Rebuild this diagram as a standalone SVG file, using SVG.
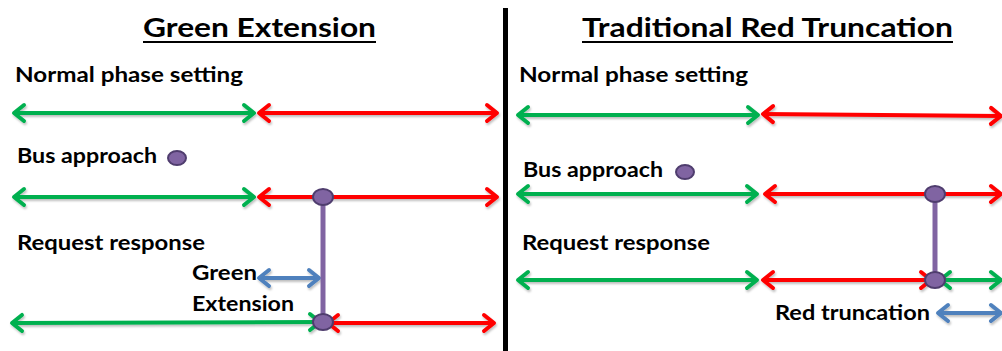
<svg xmlns="http://www.w3.org/2000/svg" width="1002" height="351" viewBox="0 0 1002 351">
  <defs>
    <style>
      .title { font-family: Lato, "Liberation Sans", sans-serif; font-weight: bold; font-size: 27px; fill: #000; }
      .label { font-family: Lato, "Liberation Sans", sans-serif; font-weight: bold; font-size: 20px; fill: #000; }
      .uline { stroke: #000; stroke-width: 2; }
      .arr { fill: none; stroke-width: 4; filter: url(#shadow); }
      .g { stroke: #00B050; marker-start: url(#hg); marker-end: url(#hg); }
      .r { stroke: #FF0000; marker-start: url(#hr); marker-end: url(#hr); }
      .b { stroke: #4F81BD; marker-start: url(#hb); marker-end: url(#hb); }
      .link { stroke: #8064A2; stroke-width: 5; }
      .dot { fill: #8064A2; stroke: #4F3D6E; stroke-width: 2; }
    </style>
    <filter id="shadow" filterUnits="userSpaceOnUse" x="0" y="0" width="1002" height="351">
      <feDropShadow dx="1" dy="2" stdDeviation="1.2" flood-color="#000" flood-opacity="0.25"/>
    </filter>
    <marker id="hg" markerUnits="userSpaceOnUse" markerWidth="20" markerHeight="20" viewBox="-14 -10 18 20" refX="0" refY="0" orient="auto-start-reverse" overflow="visible">
      <path d="M -10 -8 L 0 0 L -10 8" fill="none" stroke="#00B050" stroke-width="4" stroke-linecap="round" stroke-linejoin="round"/>
    </marker>
    <marker id="hr" markerUnits="userSpaceOnUse" markerWidth="20" markerHeight="20" viewBox="-14 -10 18 20" refX="0" refY="0" orient="auto-start-reverse" overflow="visible">
      <path d="M -10 -8 L 0 0 L -10 8" fill="none" stroke="#FF0000" stroke-width="4" stroke-linecap="round" stroke-linejoin="round"/>
    </marker>
    <marker id="hb" markerUnits="userSpaceOnUse" markerWidth="20" markerHeight="20" viewBox="-14 -10 18 20" refX="0" refY="0" orient="auto-start-reverse" overflow="visible">
      <path d="M -10 -8 L 0 0 L -10 8" fill="none" stroke="#4F81BD" stroke-width="4" stroke-linecap="round" stroke-linejoin="round"/>
    </marker>
  </defs>

  <rect width="1002" height="351" fill="#fff"/>

  <!-- panel divider -->
  <rect id="divider" x="503" y="8" width="5" height="343" fill="#000"/>

  <!-- left panel: green extension -->
  <g id="title-left">
    <text class="title" x="143" y="37" textLength="233" lengthAdjust="spacingAndGlyphs">Green Extension</text>
    <line class="uline" x1="143" y1="42" x2="376" y2="42"/>
  </g>
  <g id="labels-left">
    <text class="label" x="15" y="82" textLength="228" lengthAdjust="spacingAndGlyphs">Normal phase setting</text>
    <text class="label" x="17" y="163" textLength="140" lengthAdjust="spacingAndGlyphs">Bus approach</text>
    <text class="label" x="17" y="250" textLength="188" lengthAdjust="spacingAndGlyphs">Request response</text>
    <text class="label" x="192" y="280" textLength="65" lengthAdjust="spacingAndGlyphs">Green</text>
    <text class="label" x="192" y="311" textLength="102" lengthAdjust="spacingAndGlyphs">Extension</text>
  </g>

  <!-- right panel: traditional red truncation -->
  <g id="title-right">
    <text class="title" x="582" y="37" textLength="371" lengthAdjust="spacingAndGlyphs">Traditional  Red Truncation</text>
    <line class="uline" x1="582" y1="42" x2="953" y2="42"/>
  </g>
  <g id="labels-right">
    <text class="label" x="519" y="82" textLength="229" lengthAdjust="spacingAndGlyphs">Normal phase setting</text>
    <text class="label" x="523" y="177" textLength="140" lengthAdjust="spacingAndGlyphs">Bus approach</text>
    <text class="label" x="522" y="250" textLength="188" lengthAdjust="spacingAndGlyphs">Request response</text>
    <text class="label" x="775" y="320" textLength="155" lengthAdjust="spacingAndGlyphs">Red truncation</text>
  </g>

  <!-- phase timelines and interval arrows -->
  <g id="connectors">
    <!-- left: normal -->
    <line class="arr g" x1="14" y1="113" x2="254" y2="113"/>
    <line class="arr r" x1="259" y1="113" x2="497" y2="113"/>
    <!-- left: bus approach -->
    <line class="arr g" x1="14" y1="197" x2="254" y2="197"/>
    <line class="arr r" x1="259" y1="197" x2="497" y2="197"/>
    <!-- left: request response -->
    <line class="arr g" x1="12" y1="323" x2="320" y2="322"/>
    <line class="arr r" x1="328" y1="323" x2="494" y2="323"/>
    <!-- left: extension span -->
    <line class="arr b" x1="259" y1="278" x2="319" y2="278"/>

    <!-- right: normal -->
    <line class="arr g" x1="518" y1="115" x2="758" y2="115"/>
    <line class="arr r" x1="763" y1="114" x2="1001" y2="116"/>
    <!-- right: bus approach -->
    <line class="arr g" x1="518" y1="194" x2="757" y2="194"/>
    <line class="arr r" x1="765" y1="194" x2="1001" y2="194"/>
    <!-- right: request response -->
    <line class="arr g" x1="518" y1="280" x2="757" y2="280"/>
    <line class="arr r" x1="763" y1="280" x2="931" y2="280"/>
    <line class="arr g" x1="940" y1="280" x2="1001" y2="280"/>
    <!-- right: truncation span -->
    <line class="arr b" x1="938" y1="313" x2="1001" y2="313"/>

    <!-- bus call links -->
    <line class="link" x1="323" y1="197" x2="323" y2="322"/>
    <line class="link" x1="935" y1="194" x2="935" y2="280"/>
  </g>

  <!-- bus markers -->
  <g id="bus-left-legend"><ellipse class="dot" cx="177" cy="158" rx="9" ry="7"/></g>
  <g id="bus-left-call"><ellipse class="dot" cx="323" cy="197" rx="10" ry="8"/></g>
  <g id="bus-left-served"><ellipse class="dot" cx="323" cy="322" rx="10" ry="8"/></g>
  <g id="bus-right-legend"><ellipse class="dot" cx="685" cy="172" rx="9" ry="7"/></g>
  <g id="bus-right-call"><ellipse class="dot" cx="935" cy="194" rx="10" ry="8"/></g>
  <g id="bus-right-served"><ellipse class="dot" cx="935" cy="280" rx="10" ry="8"/></g>
</svg>
